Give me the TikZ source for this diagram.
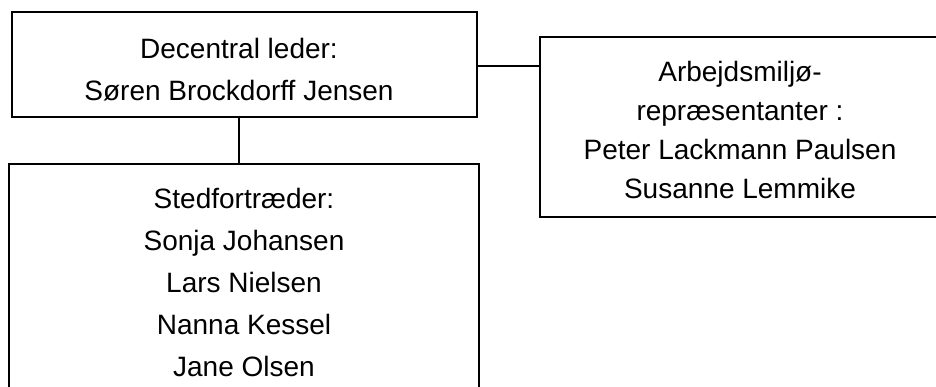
\documentclass[tikz,border=0pt]{standalone}
\usepackage{fontspec}
\setmainfont{Liberation Sans}
\newcommand{\boxtext}[3]{\hspace*{#1}\raisebox{#2}[\height][\depth]{\begin{tabular}{@{}c@{}}#3\end{tabular}}\hspace*{-#1}}
\begin{document}
\begin{tikzpicture}[x=1pt,y=1pt,
  box/.style={draw=black,line width=1.3pt,inner sep=0pt,outer sep=0pt,
    font=\fontsize{28}{42}\selectfont},
  conn/.style={draw=black,line width=1.3pt}]
\clip (0,0) rectangle (936,387);
\fill[white] (0,0) rectangle (936,387);
\node[box,minimum width=465,minimum height=105] (top) at (244.5,322.5)
  {\boxtext{-5.5pt}{-7pt}{Decentral leder:\\Søren Brockdorff Jensen}};
\node[box,minimum width=470,minimum height=240] (bot) at (244,103)
  {\boxtext{0pt}{0pt}{Stedfortræder:\\Sonja Johansen\\Lars Nielsen\\Nanna Kessel\\Jane Olsen}};
\node[box,minimum width=400,minimum height=180,font=\fontsize{28}{39}\selectfont] (rep) at (740,260)
  {\boxtext{0pt}{-5pt}{Arbejdsmiljø-\\repræsentanter :\\Peter Lackmann Paulsen\\Susanne Lemmike}};
\coordinate (v) at (239,0);
\coordinate (h) at (0,321);
\draw[conn] (top.south -| v) -- (bot.north -| v);
\draw[conn] (top.east |- h) -- (rep.west |- h);
\end{tikzpicture}
\end{document}
